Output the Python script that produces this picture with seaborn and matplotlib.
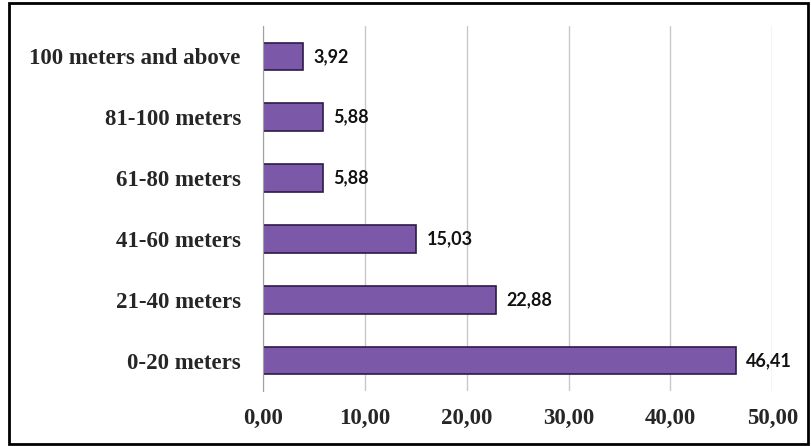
import pandas as pd
import matplotlib.pyplot as plt
import seaborn as sns
from matplotlib.patches import Rectangle

# Data
categories = ["100 meters and above", "81-100 meters", "61-80 meters",
              "41-60 meters", "21-40 meters", "0-20 meters"]
values = [3.92, 5.88, 5.88, 15.03, 22.88, 46.41]
ticks = [0, 10, 20, 30, 40, 50]

df = pd.DataFrame({"distance": categories, "percent": values})

sns.set_style("white")

fig = plt.figure(figsize=(8.12, 4.46), dpi=100)
ax = fig.add_axes([0.324, 0.123, 0.627, 0.819])

sns.barplot(data=df, x="percent", y="distance", order=categories,
            color="#7b59a8", saturation=1, width=0.45,
            edgecolor="#2e1a4a", linewidth=1.2, ax=ax)

# value labels
for v, cat in zip(values, categories):
    ax.text(v + 1.0, categories.index(cat), f"{v:.2f}".replace(".", ","),
            va="center", ha="left", fontsize=13, fontweight="bold",
            family="Lato", color="#111111")

ax.set_xlim(0, 50)
ax.set_xticks(ticks)
ax.set_xticklabels([f"{t:.2f}".replace(".", ",") for t in ticks],
                   family="Liberation Serif", fontweight="bold", fontsize=16.5)
ax.set_yticklabels(categories, family="Liberation Serif",
                   fontweight="bold", fontsize=16.5)
ax.set_xlabel("")
ax.set_ylabel("")
ax.xaxis.grid(True, color="#c8c8c8", linewidth=1)
ax.set_axisbelow(True)
for s in ["top", "right", "bottom"]:
    ax.spines[s].set_visible(False)
ax.spines["left"].set_color("#a0a0a0")
ax.tick_params(axis="x", length=0, pad=12)
ax.tick_params(axis="y", length=0, pad=16)

# outer frame
fig.patches.append(Rectangle((0.011, 0.005), 0.984, 0.988, transform=fig.transFigure,
                             fill=False, edgecolor="black", linewidth=2))

fig.savefig("out.png", dpi=100)
